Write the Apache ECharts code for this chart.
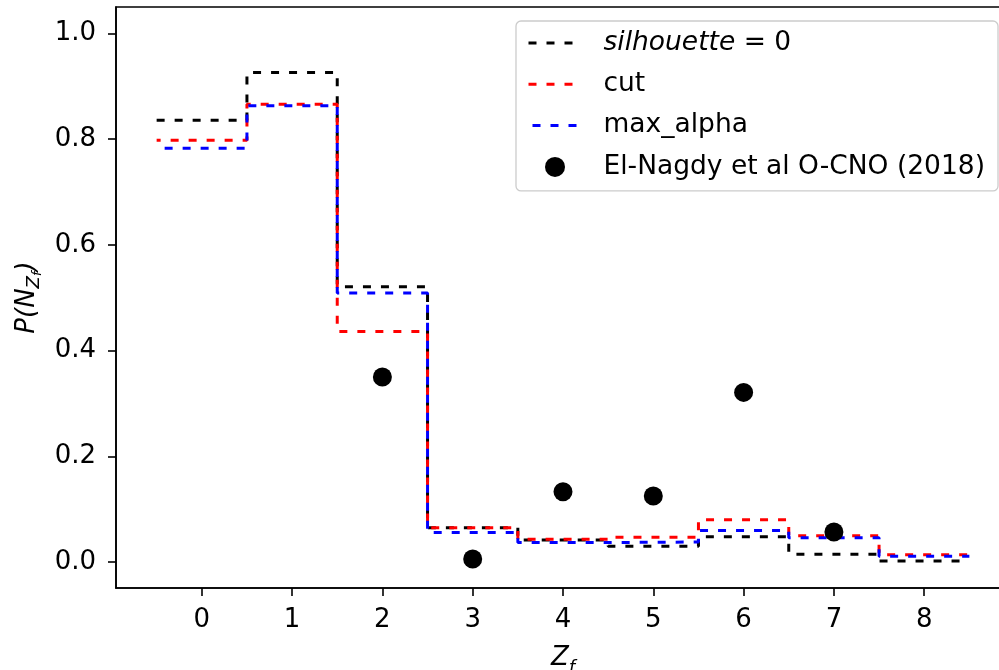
<!DOCTYPE html>
<html>
<head>
<meta charset="utf-8">
<script src="https://cdn.jsdelivr.net/npm/echarts@6/dist/echarts.min.js"></script>
<style>html,body{margin:0;padding:0;background:#fff}#c{width:999px;height:670px}</style>
</head>
<body>
<div id="c"></div>
<script>
// bin centres (Z_f)
const binCentres = [0, 1, 2, 3, 4, 5, 6, 7, 8];
// step-plot values per bin
const silhouette0 = [0.836, 0.926, 0.521, 0.065, 0.042, 0.030, 0.048, 0.015, 0.002];
const cutVals     = [0.798, 0.866, 0.436, 0.065, 0.043, 0.047, 0.080, 0.050, 0.014];
const maxAlpha    = [0.783, 0.863, 0.509, 0.056, 0.037, 0.038, 0.060, 0.046, 0.011];
// El-Nagdy et al O-CNO (2018) points
const obsX = [2, 3, 4, 5, 6, 7];
const obsY = [0.350, 0.006, 0.133, 0.125, 0.321, 0.057];
// tick labels
const xTicks = [0, 1, 2, 3, 4, 5, 6, 7, 8];
const yTicks = [0.0, 0.2, 0.4, 0.6, 0.8, 1.0];

function stairs(vals) {
  const pts = binCentres.map((c, i) => [c - 0.5, vals[i]]);
  pts.push([binCentres[binCentres.length - 1] + 0.5, vals[vals.length - 1]]);
  return pts;
}

const FONT = 'DejaVu Sans';
const FS = 26;
const chart = echarts.init(document.getElementById('c'), null, {renderer: 'canvas'});

function stepSeries(name, vals, color, offset) {
  return {
    name: name, type: 'line', step: 'end', data: stairs(vals),
    symbol: 'none', silent: true, animation: false,
    lineStyle: {color: color, width: 3, type: [8, 10], dashOffset: offset, cap: 'butt'},
    itemStyle: {color: color}
  };
}

const hiddenSym = {color: 'rgba(0,0,0,0)', borderWidth: 0, opacity: 0};

chart.setOption({
  animation: false,
  backgroundColor: '#fff',
  grid: {left: 116, right: -11, top: 7, bottom: 82, outerBoundsMode: 'none', containLabel: false,
         show: true, borderColor: '#000', borderWidth: 1.6, backgroundColor: 'transparent'},
  xAxis: {
    type: 'value', min: -0.95, max: 8.95,
    name: '{z|Z}{f|f}', nameLocation: 'middle', nameGap: 57,
    nameTextStyle: {
      rich: {
        z: {fontFamily: FONT, fontStyle: 'italic', fontSize: FS, color: '#000', lineHeight: 32, verticalAlign: 'top'},
        f: {fontFamily: FONT, fontStyle: 'italic', fontSize: 18, color: '#000', lineHeight: 32, verticalAlign: 'bottom'}
      }
    },
    splitLine: {show: false},
    axisLine: {show: true, onZero: false, lineStyle: {color: '#000', width: 1.6}},
    axisTick: {show: true, length: 8, lineStyle: {color: '#000', width: 1.6}, customValues: xTicks},
    axisLabel: {customValues: xTicks, color: '#000', fontFamily: FONT, fontSize: FS, margin: 19, formatter: v => String(v)}
  },
  yAxis: {
    type: 'value', min: -0.049, max: 1.05,
    name: '{p|P(N}{z|Z}{f|f}{p|)}', nameLocation: 'middle', nameGap: 72, nameRotate: 90,
    nameTextStyle: {
      rich: {
        p: {fontFamily: FONT, fontStyle: 'italic', fontSize: FS, color: '#000', lineHeight: 34},
        z: {fontFamily: FONT, fontStyle: 'italic', fontSize: 18, color: '#000', lineHeight: 34, verticalAlign: 'bottom'},
        f: {fontFamily: FONT, fontStyle: 'italic', fontSize: 13, color: '#000', lineHeight: 30, verticalAlign: 'bottom'}
      }
    },
    splitLine: {show: false},
    axisLine: {show: true, onZero: false, lineStyle: {color: '#000', width: 1.6}},
    axisTick: {show: true, length: 8, lineStyle: {color: '#000', width: 1.6}, customValues: yTicks},
    axisLabel: {customValues: yTicks, color: '#000', fontFamily: FONT, fontSize: FS, margin: 20, formatter: v => v.toFixed(1)}
  },
  legend: {
    show: true, orient: 'vertical', left: 516, top: 21,
    padding: [7, 13, 9, 11], itemGap: 11.3, itemWidth: 53, itemHeight: 20,
    backgroundColor: 'rgba(255,255,255,0.8)', borderColor: '#cccccc', borderWidth: 1.3, borderRadius: 5,
    textStyle: {fontFamily: FONT, fontSize: 26.5, color: '#000', lineHeight: 30, padding: [0, 0, 0, 17],
      rich: {
        it: {fontFamily: FONT, fontStyle: 'italic', fontSize: 26.5, color: '#000'},
        n: {fontFamily: FONT, fontSize: 26.5, color: '#000'}
      }
    },
    formatter: name => name === 'silhouette = 0' ? '{it|silhouette}{n| = 0}' : name,
    data: [
      {name: 'silhouette = 0', itemStyle: hiddenSym, lineStyle: {color: '#000', width: 3, type: [8, 10], dashOffset: 0}},
      {name: 'cut', itemStyle: hiddenSym, lineStyle: {color: '#ff0000', width: 3, type: [8, 10], dashOffset: 0}},
      {name: 'max_alpha', itemStyle: hiddenSym, lineStyle: {color: '#0000ff', width: 3, type: [8, 10], dashOffset: 14}},
      {name: 'El-Nagdy et al O-CNO (2018)', icon: 'circle'}
    ]
  },
  series: [
    stepSeries('silhouette = 0', silhouette0, '#000000', 0),
    stepSeries('cut', cutVals, '#ff0000', 4),
    stepSeries('max_alpha', maxAlpha, '#0000ff', 10),
    {
      name: 'El-Nagdy et al O-CNO (2018)', type: 'scatter',
      data: obsX.map((x, i) => [x, obsY[i]]),
      symbol: 'circle', symbolSize: 19, silent: true,
      itemStyle: {color: '#000000', opacity: 1}, z: 5
    }
  ]
});
</script>
</body>
</html>
